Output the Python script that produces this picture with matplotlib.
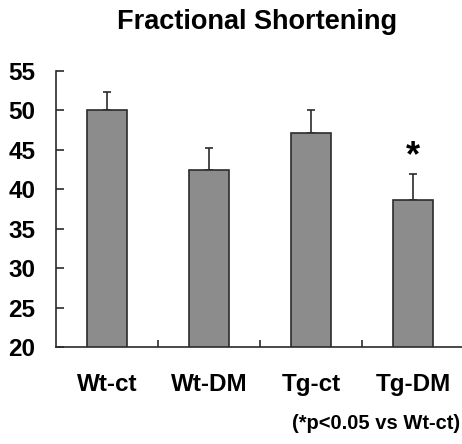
import numpy as np
import matplotlib
matplotlib.use("Agg")
import matplotlib.pyplot as plt

# values
groups = ["Wt-ct", "Wt-DM", "Tg-ct", "Tg-DM"]
means = [50.1, 42.5, 47.1, 38.6]
sem = [2.3, 2.7, 2.9, 3.4]
significant = [False, False, False, True]
y_ticks = [20, 25, 30, 35, 40, 45, 50, 55]

plt.rcParams['font.family'] = ['Liberation Sans', 'DejaVu Sans']
plt.rcParams['font.weight'] = 'bold'

fig = plt.figure(figsize=(4.62, 4.44), dpi=100)
ax = fig.add_axes([56 / 462, 1 - 347 / 444, 408 / 462, (347 - 71) / 444])

x = np.arange(len(groups))
ax.bar(x, means, width=0.4, color='#8c8c8c', edgecolor='#2b2b2b', linewidth=1.2, zorder=2)
ax.errorbar(x, means, yerr=[np.zeros(len(sem)), sem], fmt='none', ecolor='#2b2b2b',
            elinewidth=1.2, capsize=3, capthick=1.2, zorder=1)

# significance mark above the error bar
for xi, m, e, s in zip(x, means, sem, significant):
    if s:
        ax.text(xi, m + e + 2.1, '*', ha='center', va='center', fontsize=26, fontweight='bold')

ax.set_xlim(-0.5, len(groups) - 0.5)
ax.set_ylim(20, 55)
ax.set_yticks(y_ticks)
ax.set_yticklabels([str(t) for t in y_ticks], fontsize=17.5, fontweight='bold')
ax.set_xticks(x)
ax.set_xticklabels(groups, fontsize=17.5, fontweight='bold')
ax.set_xticks(x[:-1] + 0.5, minor=True)

ax.tick_params(axis='y', direction='in', length=6, width=1.2, color='#2b2b2b', pad=15)
ax.tick_params(axis='x', which='major', length=0, pad=19)
ax.tick_params(axis='x', which='minor', direction='in', length=5, width=1.2, color='#2b2b2b')

for side in ['top', 'right']:
    ax.spines[side].set_visible(False)
for side in ['left', 'bottom']:
    ax.spines[side].set_color('#2b2b2b')
    ax.spines[side].set_linewidth(1.2)

fig.text(257 / 462, 1 - 22 / 444, 'Fractional Shortening', ha='center', va='center',
         fontsize=19.5, fontweight='bold')
fig.text(460 / 462, 1 - 423 / 444, '(*p<0.05 vs Wt-ct)', ha='right', va='center',
         fontsize=14.5, fontweight='bold')

fig.savefig('out.png', dpi=100)
